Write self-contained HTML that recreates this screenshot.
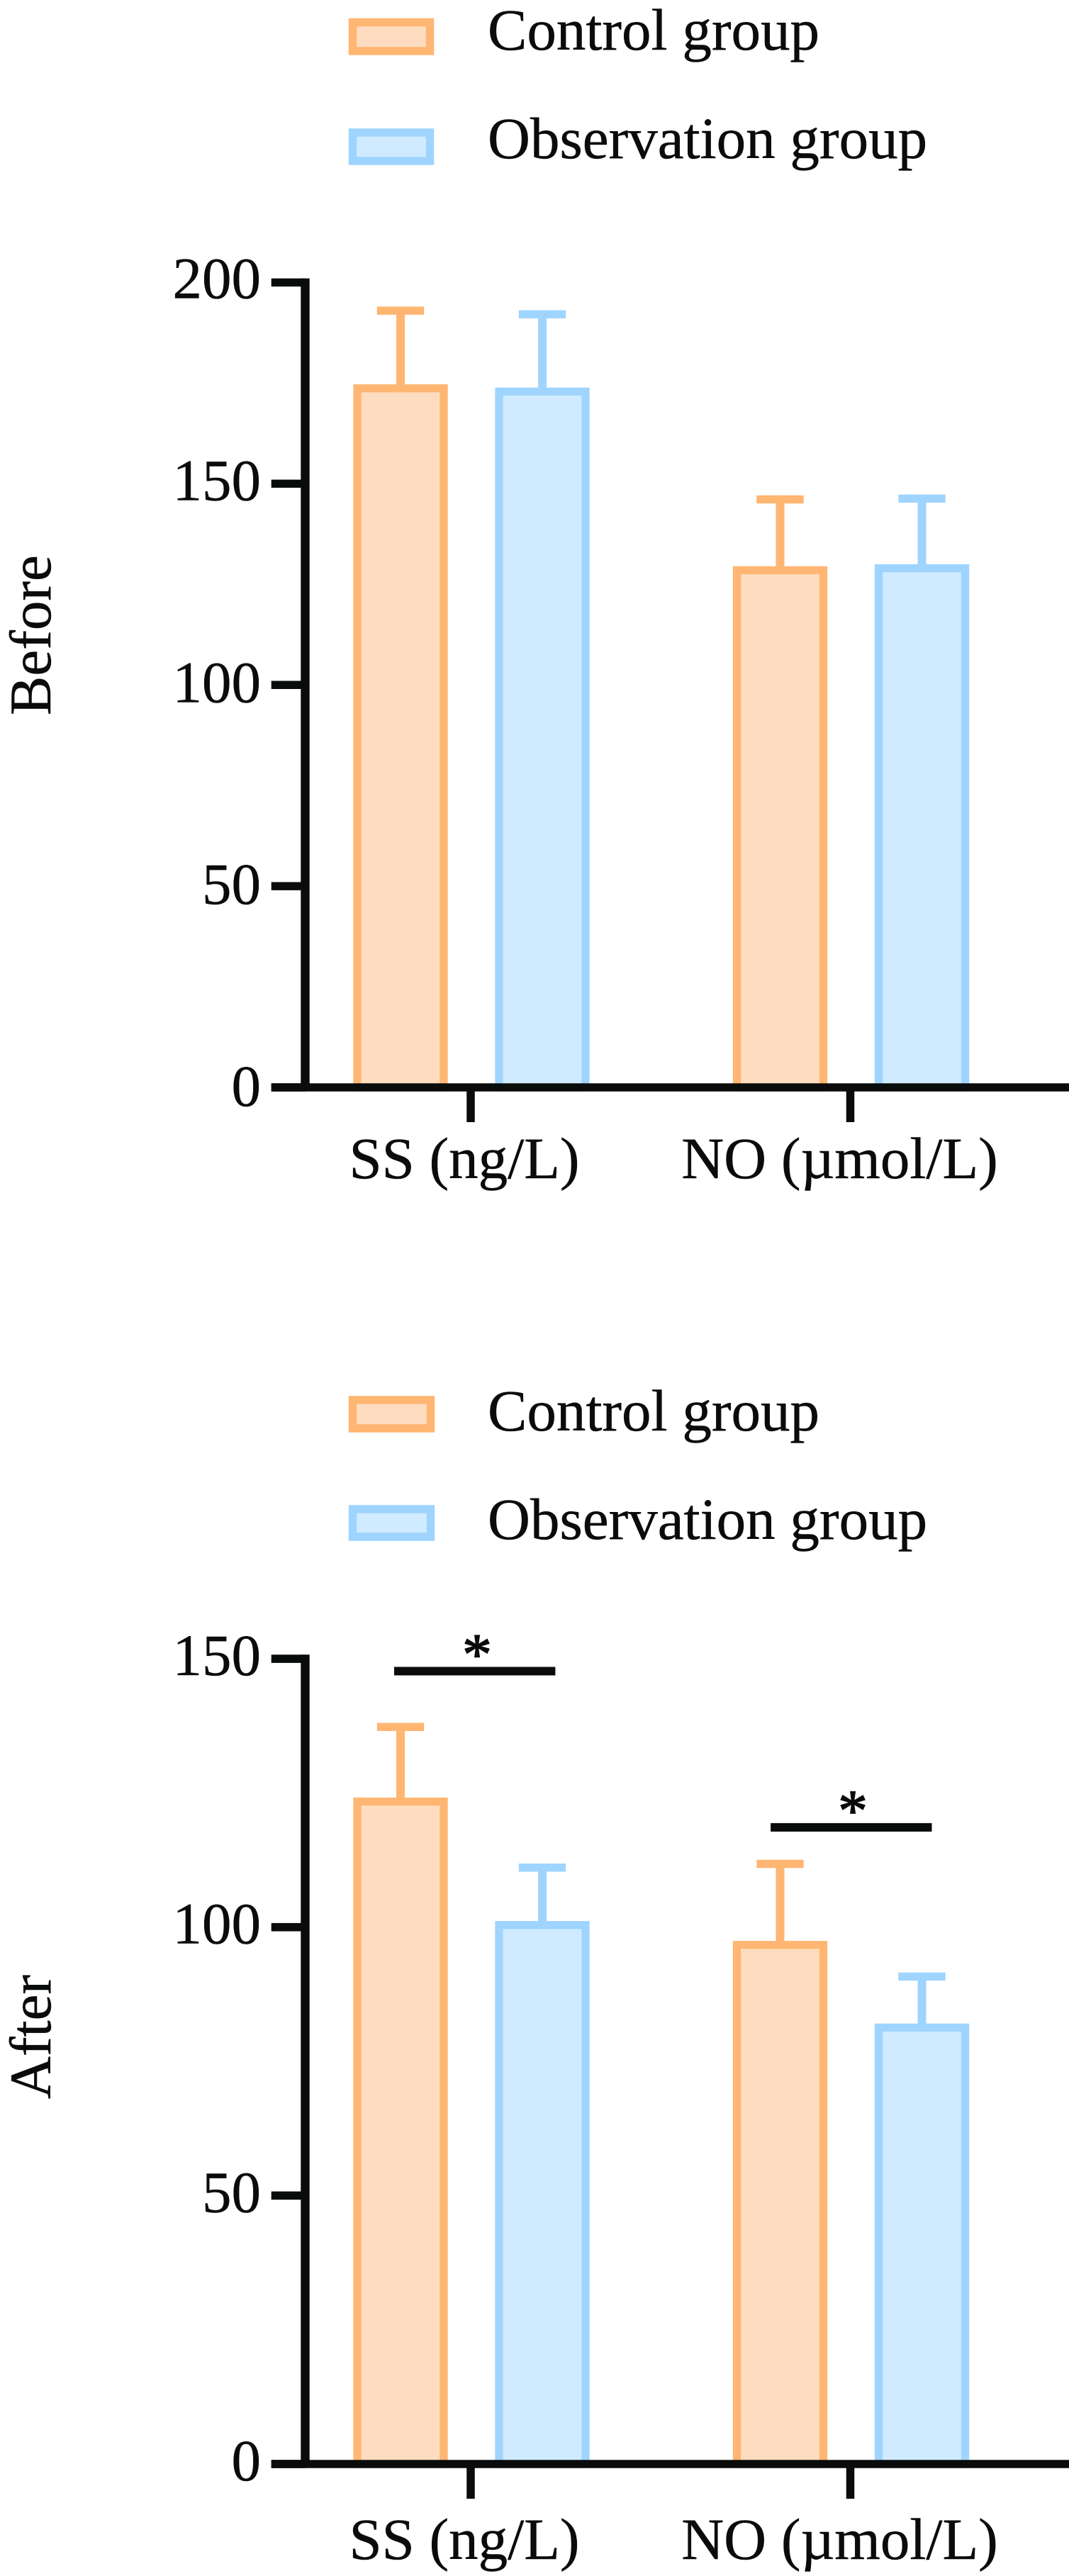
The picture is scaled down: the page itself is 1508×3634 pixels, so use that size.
<!DOCTYPE html>
<html lang="en">
<head>
<meta charset="utf-8">
<title>SS and NO levels before and after treatment</title>
<style>
html,body{margin:0;padding:0;background:#fff;}
svg{display:block;}
text{font-family:"Liberation Serif","Noto Serif CJK SC",serif;font-size:83px;fill:#0a0c0c;stroke:#0a0c0c;stroke-width:0.5px;}
</style>
</head>
<body>
<svg id="figure" xmlns="http://www.w3.org/2000/svg" width="1508" height="3634" viewBox="0 0 1508 3634">
  <rect x="0" y="0" width="1508" height="3634" fill="#ffffff"/>
  <g id="before-panel">
    <g>
      <rect x="497.5" y="31.5" width="109" height="40.5" fill="#FDDCC0" stroke="#FFB672" stroke-width="11.5"/>
      <text x="688" y="70">Control group</text>
      <rect x="497.5" y="187" width="109" height="40" fill="#D0EBFF" stroke="#9FD4FF" stroke-width="11.5"/>
      <text x="688" y="223">Observation group</text>
    </g>
    <text transform="translate(71 1009) rotate(-90)" x="0" y="0">Before</text>
  </g>
  <g id="after-panel">
    <g>
      <rect x="497.5" y="1975" width="110" height="40" fill="#FDDCC0" stroke="#FFB672" stroke-width="11.5"/>
      <text x="688" y="2018">Control group</text>
      <rect x="497.5" y="2129" width="110" height="39" fill="#D0EBFF" stroke="#9FD4FF" stroke-width="11.5"/>
      <text x="688" y="2171">Observation group</text>
    </g>
    <text transform="translate(71 2961) rotate(-90)" x="0" y="0">After</text>
  </g>
</svg>
<script>
// Shared categories
const categories = ['SS (ng/L)', 'NO (\u00b5mol/L)'];

// "Before" panel data
const beforeTicks = [0, 50, 100, 150, 200];
const beforeControl = [173.7, 128.5];
const beforeObservation = [172.9, 129.0];
const beforeControlUpper = [193.0, 146.1];
const beforeObservationUpper = [192.1, 146.3];

// "After" panel data
const afterTicks = [0, 50, 100, 150];
const afterControl = [123.4, 96.7];
const afterObservation = [100.4, 81.3];
const afterControlUpper = [137.3, 111.8];
const afterObservationUpper = [111.1, 90.8];
const afterSignificance = [147.7, 118.6];
const afterSignificanceLabels = ['*', '*'];

const NS = 'http://www.w3.org/2000/svg';
const INK = '#0a0c0c';
const ORANGE = '#FFB672', ORANGE_FILL = '#FDDCC0';
const BLUE = '#9FD4FF', BLUE_FILL = '#D0EBFF';

function make(parent, tag, attrs) {
  const el = document.createElementNS(NS, tag);
  for (const k in attrs) el.setAttribute(k, attrs[k]);
  parent.appendChild(el);
  return el;
}

// Category axis: centre of each group
function groupX(i) { return 664 + i * 535.5; }
// Bar centre inside a group (s = 0 control, s = 1 observation)
function barX(i, s) { return groupX(i) + (s === 0 ? -99 : 101); }
// Significance bracket and star centres per group
function bracketX(i) { return 669.7 + i * 531.1; }
function starX(i) { return 673 + i * 530; }

function drawPanel(panel, cfg) {
  const y = v => cfg.y0 - v * cfg.scale;
  const axisLeft = 430.5, tickLeft = 382.7;

  // bars and error bars
  const series = [
    { name: 'control', values: cfg.control, upper: cfg.controlUpper, stroke: ORANGE, fill: ORANGE_FILL },
    { name: 'observation', values: cfg.observation, upper: cfg.observationUpper, stroke: BLUE, fill: BLUE_FILL }
  ];
  series.forEach((s, si) => {
    s.values.forEach((v, i) => {
      const cx = barX(i, si);
      const stem = make(panel, 'line', { x1: cx, x2: cx, y1: y(v), y2: y(s.upper[i]), stroke: s.stroke, 'stroke-width': 12 });
      
      
      const cap = make(panel, 'line', { x1: cx - 33.2, x2: cx + 33.2, y1: y(s.upper[i]), y2: y(s.upper[i]), stroke: s.stroke, 'stroke-width': 11.5 });
      
      
      const bar = make(panel, 'rect', { x: cx - 61, y: y(v), width: 122, height: y(0) - y(v), fill: s.fill, stroke: s.stroke, 'stroke-width': 11.3 });
      
      
    });
  });

  // y axis
  const top = y(cfg.ticks[cfg.ticks.length - 1]);
  const yAxis = make(panel, 'line', { x1: axisLeft, x2: axisLeft, y1: top - 5.8, y2: y(0), stroke: INK, 'stroke-width': 12.4 });
  
  

  cfg.ticks.forEach(t => {
    const tick = make(panel, 'line', { x1: tickLeft, x2: axisLeft, y1: y(t), y2: y(t), stroke: INK, 'stroke-width': 11.6 });
    
    
    const label = make(panel, 'text', { x: 368, y: y(t) + cfg.labelOffset(t), 'text-anchor': 'end' });
    
    
    label.textContent = String(t);
  });

  // x axis
  const xAxis = make(panel, 'line', { x1: tickLeft, x2: 1508, y1: y(0), y2: y(0), stroke: INK, 'stroke-width': 11.6 });
  
  

  categories.forEach((c, i) => {
    const tick = make(panel, 'line', { x1: groupX(i), x2: groupX(i), y1: y(0), y2: y(0) + cfg.tickLen, stroke: INK, 'stroke-width': 11.5 });
    
    
    const label = make(panel, 'text', { x: i === 0 ? 655 : 1184.5, y: cfg.labelY, 'text-anchor': 'middle' });
    
    
    label.textContent = c;
  });

  // significance markers
  (cfg.significance || []).forEach((v, i) => {
    const cx = bracketX(i);
    const line = make(panel, 'line', { x1: cx - 113.7, x2: cx + 113.7, y1: y(v), y2: y(v), stroke: INK, 'stroke-width': 12 });
    
    
    const star = make(panel, 'text', { x: starX(i), y: y(v) + 4, 'text-anchor': 'middle', style: 'stroke-width:1.6px' });
    
    
    star.textContent = cfg.significanceLabels[i];
  });
}

drawPanel(document.getElementById('before-panel'), {
  ticks: beforeTicks,
  control: beforeControl,
  observation: beforeObservation,
  controlUpper: beforeControlUpper,
  observationUpper: beforeObservationUpper,
  y0: 1534,
  scale: 5.6775,
  tickLen: 49,
  labelY: 1662,
  labelOffset: t => 26 - t * 0.02
});

drawPanel(document.getElementById('after-panel'), {
  ticks: afterTicks,
  control: afterControl,
  observation: afterObservation,
  controlUpper: afterControlUpper,
  observationUpper: afterObservationUpper,
  significance: afterSignificance,
  significanceLabels: afterSignificanceLabels,
  y0: 3476,
  scale: 7.573,
  tickLen: 49,
  labelY: 3610,
  labelOffset: t => 23
});
</script>
</body>
</html>
